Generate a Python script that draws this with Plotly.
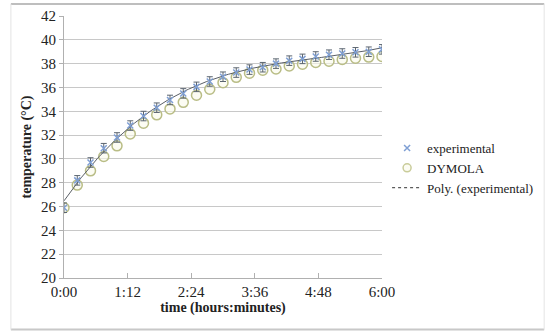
import numpy as np
import plotly.graph_objects as go

# time in hours (every 15 minutes)
time_h = [0, 0.25, 0.5, 0.75, 1, 1.25, 1.5, 1.75, 2, 2.25, 2.5, 2.75, 3,
          3.25, 3.5, 3.75, 4, 4.25, 4.5, 4.75, 5, 5.25, 5.5, 5.75, 6]
experimental = [25.9, 28.2, 29.7, 30.9, 31.8, 32.8, 33.6, 34.3, 34.95, 35.5, 36.05, 36.5, 36.9,
                37.25, 37.5, 37.7, 38.0, 38.25, 38.4, 38.6, 38.75, 38.85, 38.95, 39.0, 39.2]
exp_error = [0.4] * len(time_h)
dymola = [25.9, 27.8, 29.0, 30.2, 31.1, 32.1, 33.0, 33.7, 34.2, 34.75, 35.35, 35.85, 36.4,
          36.85, 37.2, 37.45, 37.55, 37.8, 37.95, 38.1, 38.2, 38.35, 38.45, 38.55, 38.6]

x_tickvals = [0, 1.2, 2.4, 3.6, 4.8, 6.0]
x_ticktext = ["0:00", "1:12", "2:24", "3:36", "4:48", "6:00"]
y_tickvals = list(range(20, 43, 2))

# polynomial trendline of experimental data
coef = np.polyfit(time_h, experimental, 3)
t_fit = np.linspace(0, 6, 200)
y_fit = np.polyval(coef, t_fit)

serif = "Liberation Serif, Times New Roman, serif"

fig = go.Figure()
fig.add_trace(go.Scatter(
    x=time_h, y=dymola, mode="markers", name="DYMOLA",
    marker=dict(symbol="circle", size=10, color="rgba(250,250,235,0.6)",
                line=dict(color="#b9bd86", width=1.5)),
    showlegend=False))
fig.add_trace(go.Scatter(
    x=t_fit, y=y_fit, mode="lines", name="Poly. (experimental)",
    line=dict(color="#5a5f66", width=1), showlegend=False))
fig.add_trace(go.Scatter(
    x=time_h, y=experimental, mode="markers", name="experimental",
    marker=dict(symbol="x-thin", size=6, color="#7f9fd4", line=dict(color="#7f9fd4", width=1.5)),
    error_y=dict(type="data", array=exp_error, color="#5a6470", thickness=1, width=3)))
fig.add_trace(go.Scatter(
    x=[None], y=[None], mode="markers", name="DYMOLA",
    marker=dict(symbol="circle", size=8, color="rgba(250,250,235,0.6)",
                line=dict(color="#c9cc9a", width=1.5))))
fig.add_trace(go.Scatter(
    x=[None], y=[None], mode="lines", name="Poly. (experimental)",
    line=dict(color="#333333", width=1, dash="dot")))

fig.update_layout(
    width=545, height=332,
    margin=dict(l=64, r=163, t=16, b=54, autoexpand=False),
    paper_bgcolor="white", plot_bgcolor="white",
    font=dict(family=serif, size=14, color="#222"),
    xaxis=dict(range=[0, 6], tickvals=x_tickvals, ticktext=x_ticktext, automargin=False,
               showgrid=False, zeroline=False, showline=True, linecolor="#b0b0b0",
               ticks="inside", ticklen=5, tickcolor="#b0b0b0",
               title=dict(text="<b>time (hours:minutes)</b>", font=dict(size=14, family=serif), standoff=3),
               tickfont=dict(size=15, family=serif)),
    yaxis=dict(range=[20, 42], tickvals=y_tickvals, automargin=False,
               showgrid=True, gridcolor="#c8c8c8", gridwidth=1, zeroline=False,
               showline=True, linecolor="#b0b0b0", ticks="outside", ticklen=4,
               tickcolor="#b0b0b0",
               title=dict(text="<b>temperature (°C)</b>", font=dict(size=14, family=serif), standoff=6),
               tickfont=dict(size=15, family=serif)),
    legend=dict(x=0.025, xref="container", y=0.42, xanchor="left", yanchor="middle",
                font=dict(size=13, family=serif), bgcolor="rgba(0,0,0,0)",
                tracegroupgap=0, itemwidth=30),
    shapes=[
        dict(type="line", xref="paper", yref="paper", x0=-0.167, x1=1.51, y0=1.046, y1=1.046,
             line=dict(color="#a8a8a8", width=1.5)),
        dict(type="line", xref="paper", yref="paper", x0=-0.167, x1=1.51, y0=-0.197, y1=-0.197,
             line=dict(color="#c8c8c8", width=2)),
        dict(type="line", xref="paper", yref="paper", x0=-0.167, x1=-0.167, y0=-0.197, y1=1.046,
             line=dict(color="#e4e4e4", width=1)),
        dict(type="line", xref="paper", yref="paper", x0=1.51, x1=1.51, y0=-0.197, y1=1.046,
             line=dict(color="#e4e4e4", width=1)),
    ],
)
fig.update_layout(legend=dict(xref="paper", x=1.016))

fig.write_html("out.html", config={"displayModeBar": False},
               post_script="document.body.style.margin='0';")
